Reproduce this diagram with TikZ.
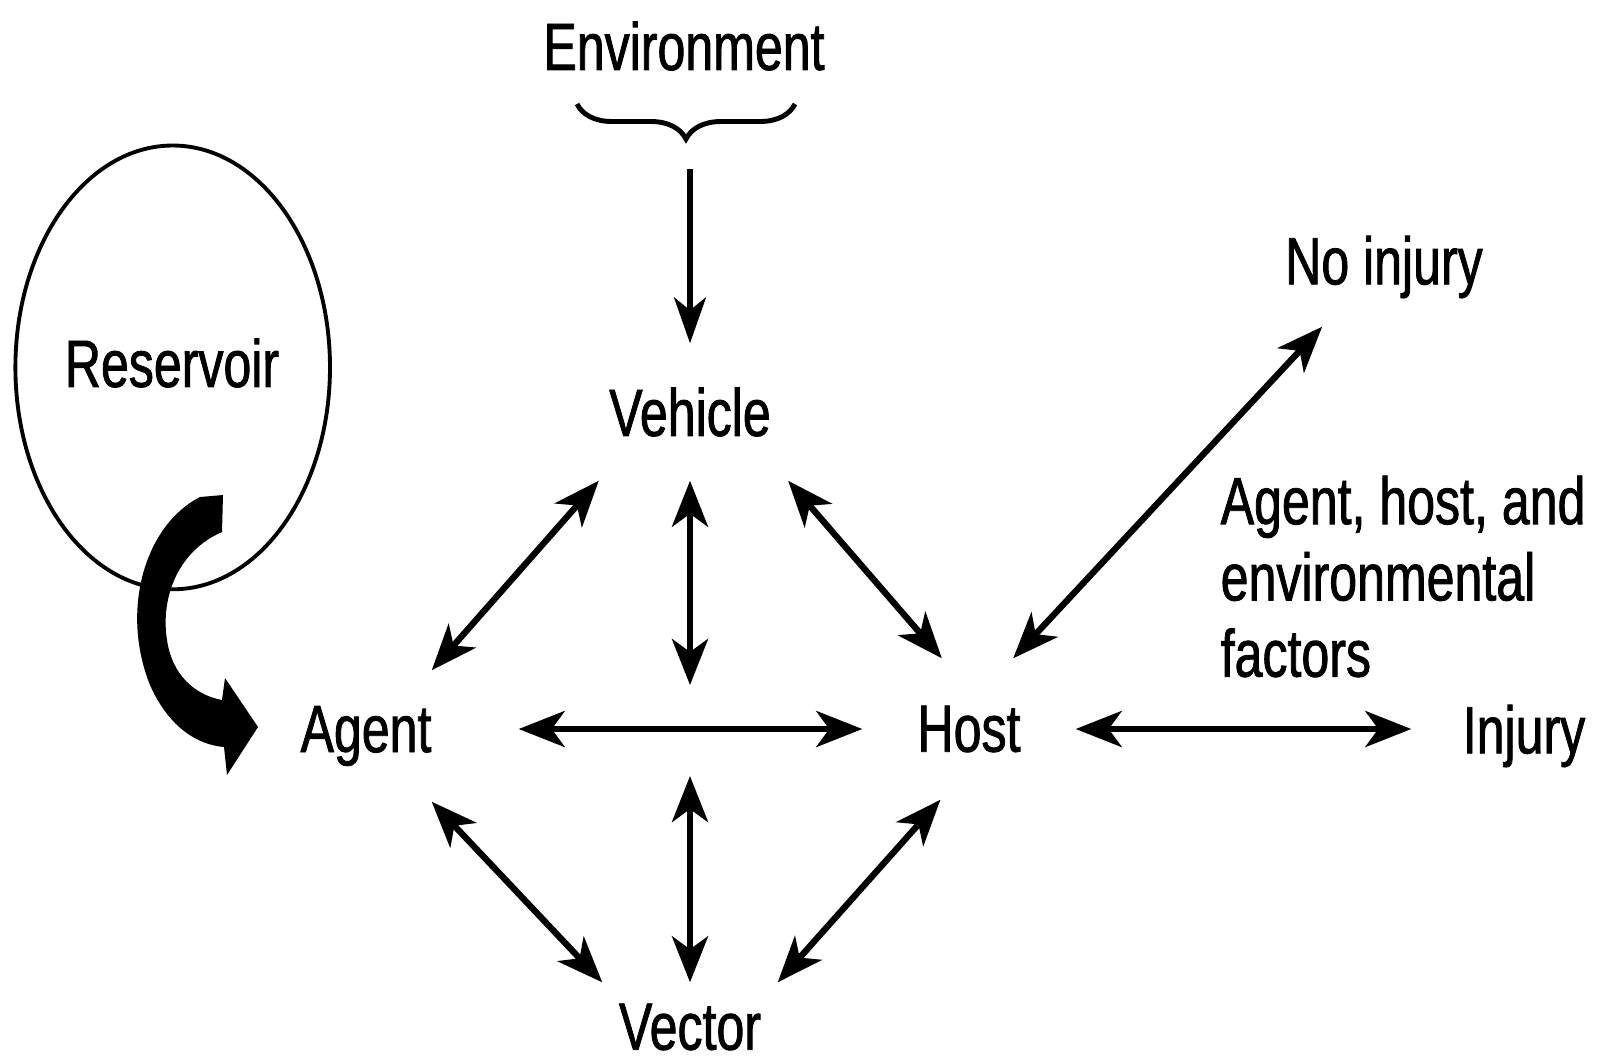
\documentclass[tikz,border=0pt]{standalone}
\usepackage{fontspec}
\setmainfont{Liberation Sans}[FakeStretch=0.75, FakeBold=1.2]
\usetikzlibrary{arrows.meta, decorations.pathreplacing}
\tikzset{
  link/.style={{Stealth[length=4.6mm, width=3.6mm, inset=1.3mm]}-{Stealth[length=4.6mm, width=3.6mm, inset=1.3mm]}, line width=1.8pt},
  feed/.style={-{Stealth[length=4.6mm, width=3.2mm, inset=1.3mm]}, line width=1.5pt},
  envbrace/.style={decorate, decoration={brace, mirror, amplitude=0.35cm}, line width=1.4pt},
  word/.style={font=\fontsize{19}{21.7}\selectfont, inner sep=0pt}
}
\begin{document}
\begin{tikzpicture}
\useasboundingbox (0,0) rectangle (16.07,-10.61);

% reservoir with its thick arrow
\draw[line width=1.1pt] (1.727,-3.674) ellipse (1.573 and 2.219);
\node[word] (res) at (1.72,-3.63) {Reservoir};
\fill (2.23,-4.95) -- (2.00,-4.97) .. controls (1.45,-5.25) and (1.20,-6.10) .. (1.50,-6.85)
  .. controls (1.70,-7.30) and (2.00,-7.45) .. (2.24,-7.47) -- (2.27,-7.75) -- (2.58,-7.27)
  -- (2.25,-6.78) -- (2.22,-7.00) .. controls (1.95,-6.95) and (1.72,-6.75) .. (1.67,-6.40)
  .. controls (1.60,-5.95) and (1.80,-5.50) .. (2.22,-5.32) -- cycle;

% nodes
\node[word] (env) at (6.84,-0.46) {Environment};
\node[word, minimum width=2cm, minimum height=1.36cm] (vehicle) at (6.90,-4.12) {Vehicle};
\node[word, minimum width=3.04cm, minimum height=1.30cm] (agent) at (3.66,-7.36) {Agent};
\node[word, minimum width=2.12cm, minimum height=1.40cm] (host) at (9.69,-7.29) {Host};
\node[word, minimum width=2.24cm] (injury) at (15.24,-7.36) {Injury};
\node[word, minimum height=1.18cm] (noinj) at (13.84,-2.67) {No injury};
\node[word, minimum width=2cm, minimum height=0.88cm] (vector) at (6.90,-10.27) {Vector};
\node[word, align=left, anchor=north west] (factors) at (12.20,-4.75) {Agent, host, and\\environmental\\factors};

% environment brace
\draw[envbrace] (5.77,-1.04) -- (7.95,-1.04);
\coordinate (envtip) at (6.90,-1.69);
\draw[feed] (envtip) -- (vehicle.north);

% links
\coordinate (hubtop) at (6.90,-6.85);
\coordinate (hubbot) at (6.90,-7.76);
\draw[link] (agent.45) -- (vehicle.-143);
\draw[link] (vehicle.south) -- (hubtop);
\draw[link] (vehicle.-35) -- (host.111);
\draw[link] (agent.east |- host.west) -- (host.west);
\draw[link] (agent.-45) -- (vector.153);
\draw[link] (hubbot) -- (vector.north);
\draw[link] (host.-112) -- (vector.27.5);
\draw[link] (host.58) -- (noinj.-136);
\draw[link] (host.east) -- (host.east -| injury.west);
\end{tikzpicture}
\end{document}
